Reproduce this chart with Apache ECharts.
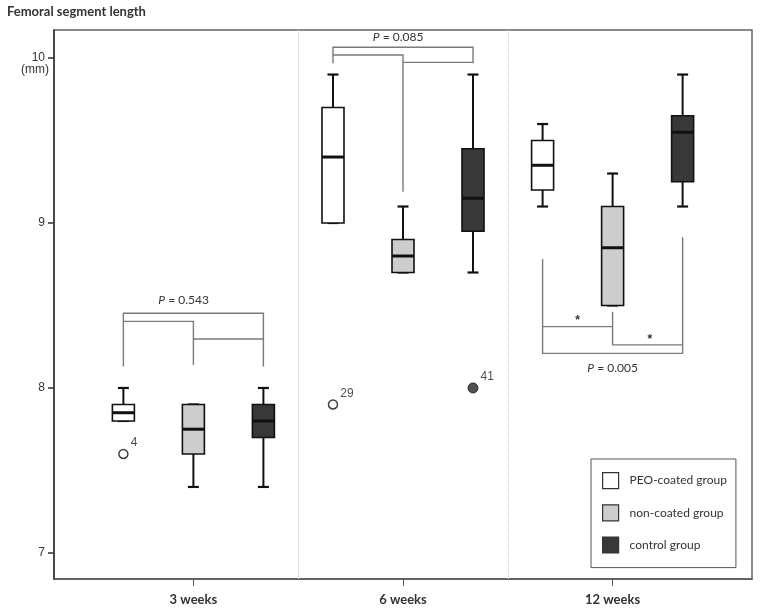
<!DOCTYPE html>
<html><head><meta charset="utf-8">
<script src="https://cdn.jsdelivr.net/npm/echarts@6/dist/echarts.min.js"></script>
<style>html,body{margin:0;padding:0;background:#fff}#c{width:760px;height:613px}</style>
</head><body><div id="c"></div>
<script>
const categories = ['3 weeks', '6 weeks', '12 weeks'];
const groups = ['PEO-coated group', 'non-coated group', 'control group'];
// [min, Q1, median, Q3, max] per category
const peoCoated = [[7.8, 7.8, 7.85, 7.9, 8.0], [9.0, 9.0, 9.4, 9.7, 9.9], [9.1, 9.2, 9.35, 9.5, 9.6]];
const nonCoated = [[7.4, 7.6, 7.75, 7.9, 7.9], [8.7, 8.7, 8.8, 8.9, 9.1], [8.5, 8.5, 8.85, 9.1, 9.3]];
const controlGrp = [[7.4, 7.7, 7.8, 7.9, 8.0], [8.7, 8.95, 9.15, 9.45, 9.9], [9.1, 9.25, 9.55, 9.65, 9.9]];
// outliers: group index, category index, value, case id
const outlierGroup = [0, 0, 2];
const outlierCat = [0, 1, 1];
const outlierValue = [7.6, 7.9, 8.0];
const outlierId = ['4', '29', '41'];
const yTicks = [7, 8, 9, 10];
// significance brackets: polylines of [category, group, value]
const brackets = [
  [[0, 0, 8.13], [0, 0, 8.453], [0, 2, 8.453], [0, 2, 8.13]],
  [[0, 0, 8.404], [0, 1, 8.404], [0, 1, 8.14]],
  [[0, 1, 8.297], [0, 2, 8.297]],
  [[1, 0, 9.968], [1, 0, 10.065], [1, 2, 10.065], [1, 2, 9.968]],
  [[1, 0, 10.018], [1, 1, 10.018], [1, 1, 9.19]],
  [[1, 1, 9.974], [1, 2, 9.974]],
  [[2, 0, 8.782], [2, 0, 8.21], [2, 2, 8.21], [2, 2, 8.913]],
  [[2, 0, 8.372], [2, 1, 8.372]],
  [[2, 1, 8.462], [2, 1, 8.261], [2, 2, 8.261]]
];
// p-value labels: category, group position, value, text
const pLabels = [[0, 0.86, 8.53, '0.543'], [1, 0.93, 10.125, '0.085'], [2, 1.0, 8.12, '0.005']];
const stars = [[2, 0.5, 8.408], [2, 1.53, 8.295]];

const OFF = 0.334;
const fills = ['#ffffff', '#cdcdcd', '#383838'];
const allData = [peoCoated, nonCoated, controlGrp];
const xPos = (cat, g) => cat + (g - 1) * OFF;

function boxRender(params, api) {
  const x = api.value(0);
  const mn = api.value(1), q1 = api.value(2), md = api.value(3), q3 = api.value(4), mx = api.value(5);
  const c = v => api.coord([x, v]);
  const px = c(md)[0];
  const hw = 11, cw = 5.5;
  const ln = (x1, y1, x2, y2, w) => ({type: 'line', shape: {x1, y1, x2, y2}, style: {stroke: '#111', lineWidth: w}});
  const yMn = c(mn)[1], yQ1 = c(q1)[1], yMd = c(md)[1], yQ3 = c(q3)[1], yMx = c(mx)[1];
  const ch = [];
  if (mx > q3) ch.push(ln(px, yMx, px, yQ3, 2));
  if (mn < q1) ch.push(ln(px, yQ1, px, yMn, 2));
  ch.push(ln(px - cw, yMx, px + cw, yMx, 2.2));
  ch.push(ln(px - cw, yMn, px + cw, yMn, 2.2));
  ch.push({type: 'rect', shape: {x: px - hw, y: yQ3, width: 2 * hw, height: yQ1 - yQ3},
    style: {fill: api.visual('color'), stroke: '#111', lineWidth: 1.6}});
  ch.push(ln(px - hw, yMd, px + hw, yMd, 3));
  return {type: 'group', children: ch};
}

const series = groups.map((g, gi) => ({
  name: g,
  type: 'custom',
  renderItem: boxRender,
  itemStyle: {color: fills[gi], borderColor: '#222', borderWidth: 1.2},
  encode: {x: 0, y: [1, 2, 3, 4, 5]},
  data: allData[gi].map((d, ci) => [xPos(ci, gi)].concat(d)),
  z: 5
}));

// dividers
series.push({
  type: 'line', data: [], silent: true,
  markLine: {symbol: 'none', silent: true, label: {show: false},
    lineStyle: {type: 'dotted', color: '#c8c8c8', width: 1},
    data: [{xAxis: 0.5}, {xAxis: 1.5}]}
});

// brackets
series.push({
  type: 'lines', coordinateSystem: 'cartesian2d', polyline: true, silent: true,
  lineStyle: {color: '#7a7a7a', width: 1.4, opacity: 1},
  data: brackets.map(b => ({coords: b.map(p => [xPos(p[0], p[1]), p[2]])})),
  z: 3
});

// outliers
const outData = outlierValue.map((v, i) => ({
  value: [xPos(outlierCat[i], outlierGroup[i]), v],
  label: {formatter: outlierId[i]},
  itemStyle: outlierGroup[i] === 2 ? {color: '#262626', borderColor: '#111', borderWidth: 1} : {color: '#fff', borderColor: '#111', borderWidth: 1.5},
  symbolSize: outlierGroup[i] === 2 ? 10 : 9
}));
series.push({
  type: 'scatter', name: 'outliers', symbol: 'circle', data: outData, z: 6,
  label: {show: true, position: 'right', distance: 2, offset: [0, -11],
    fontFamily: 'Liberation Sans', fontSize: 12, color: '#222'}
});

// text annotations
series.push({
  type: 'custom', silent: true, z: 6,
  data: pLabels.map(p => [p[0] + (p[1] - 1) * OFF, p[2], p[3]]),
  renderItem: (params, api) => {
    const pt = api.coord([api.value(0), api.value(1)]);
    return {type: 'text', x: pt[0], y: pt[1], style: {
      text: '{i|P} = ' + pLabels[params.dataIndex][3],
      rich: {i: {fontStyle: 'italic', fontFamily: 'Lato', fontSize: 12, fill: '#333'}},
      fontFamily: 'Lato', fontSize: 12, fill: '#333', align: 'center', verticalAlign: 'middle'}};
  }
});
series.push({
  type: 'custom', silent: true, z: 6,
  data: stars.map(s => [s[0] + (s[1] - 1) * OFF, s[2]]),
  renderItem: (params, api) => {
    const pt = api.coord([api.value(0), api.value(1)]);
    return {type: 'text', x: pt[0], y: pt[1], style: {text: '*', fontFamily: 'Liberation Sans', fontSize: 12, fontWeight: 'bold', fill: '#333', align: 'center', verticalAlign: 'middle'}};
  }
});

const chart = echarts.init(document.getElementById('c'), null, {renderer: 'canvas'});
chart.setOption({
  animation: false,
  backgroundColor: '#fff',
  title: {text: 'Femoral segment length', left: 2, top: 0,
    textStyle: {fontFamily: 'Lato', fontWeight: 'bold', fontSize: 13, color: '#333'}},
  graphic: [{type: 'text', left: 21, top: 64, style: {text: '(mm)', font: '12px "Liberation Sans"', fill: '#333'}}],
  grid: {left: 54, right: 8, top: 30, bottom: 34, show: true, borderColor: '#666', borderWidth: 1.5},
  legend: {
    data: groups.map((g, i) => ({name: g, itemStyle: {color: fills[i], borderColor: '#333', borderWidth: 1.2}})),
    orient: 'vertical', left: 591, top: 459, icon: 'rect',
    itemWidth: 16, itemHeight: 16, itemGap: 15,
    padding: [13, 9, 14, 11], borderColor: '#555', borderWidth: 1,
    textStyle: {fontFamily: 'Lato', fontSize: 12, color: '#333', padding: [0, 0, 0, 6]}
  },
  xAxis: {
    type: 'value', min: -0.665, max: 2.665,
    axisLine: {show: true, onZero: false, lineStyle: {color: '#555', width: 1.5}},
    axisTick: {show: true, customValues: [0, 1, 2], length: 7, lineStyle: {color: '#555', width: 1}},
    axisLabel: {customValues: [0, 1, 2], formatter: v => categories[Math.round(v)], margin: 14,
      fontFamily: 'Lato', fontWeight: 'bold', fontSize: 13, color: '#333'},
    splitLine: {show: false}
  },
  yAxis: {
    type: 'value', min: 6.842, max: 10.17,
    axisLine: {show: true, onZero: false, lineStyle: {color: '#333', width: 1.5}},
    axisTick: {show: true, customValues: yTicks, length: 6, lineStyle: {color: '#333', width: 1.5}},
    axisLabel: {customValues: yTicks, margin: 9, fontFamily: 'Liberation Sans', fontSize: 12, color: '#333'},
    splitLine: {show: false}
  },
  series: series
});
</script></body></html>
